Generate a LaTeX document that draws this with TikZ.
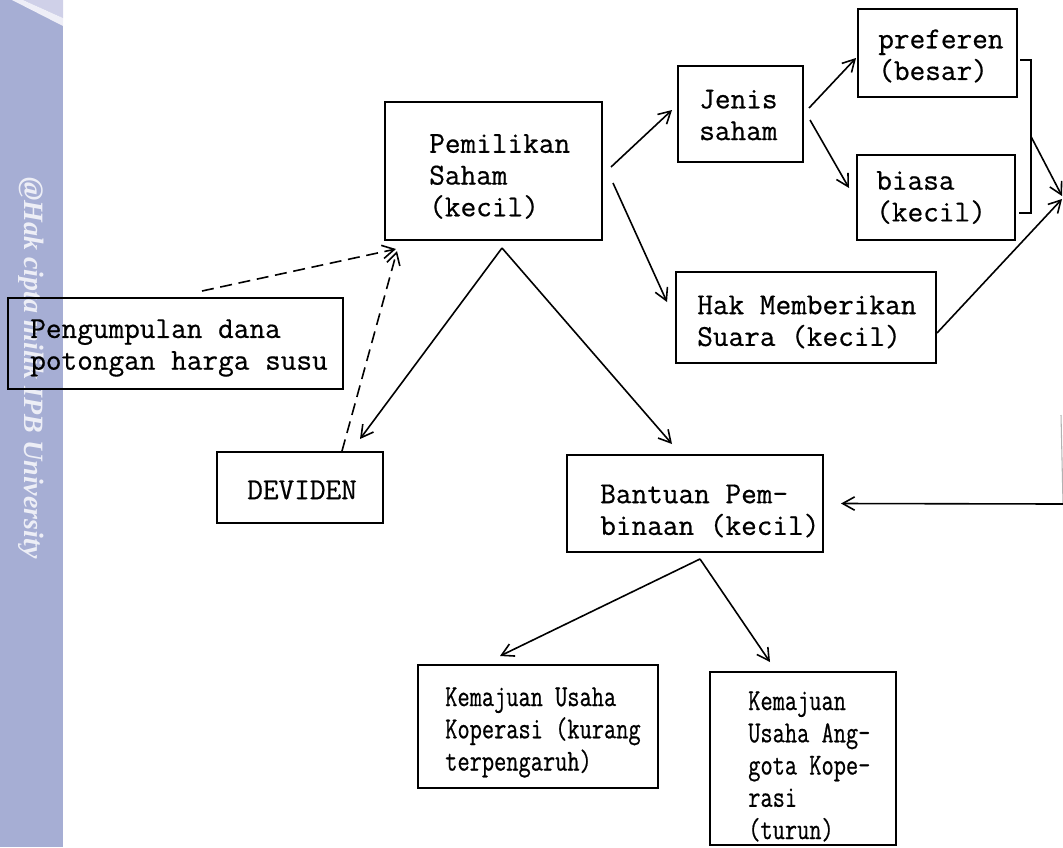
\documentclass[tikz,border=0pt]{standalone}
\usepackage{fontspec}
\newfontfamily\markfont{Liberation Serif}
\newfontfamily\typefont{Latin Modern Mono}[FakeBold=0.6]
\newfontfamily\narrowtype{Latin Modern Mono}[FakeStretch=0.78,FakeBold=0.6]
\usetikzlibrary{arrows.meta,calc}
\definecolor{stripblue}{HTML}{A6AED4}
\definecolor{stripfold}{HTML}{CFD0E8}
\definecolor{stripshine}{HTML}{EEEEF7}
\tikzset{
  box/.style n args={2}{draw, line width=1.5pt, rectangle, inner sep=0pt,
    minimum width=#1*0.75pt, minimum height=#2*0.75pt},
  txt/.style={font=\typefont\fontsize{22.8}{23.8}\selectfont, align=left,
    anchor=west, inner sep=0pt},
  narrowtxt/.style={txt, font=\narrowtype\fontsize{22.8}{24.2}\selectfont},
  arr/.style={line width=1.2pt,
    -{Straight Barb[length=9pt,width=10pt,line width=1.2pt]}},
  dsh/.style={arr, dash pattern=on 9pt off 5pt},
  link/.style={line width=1.2pt}
}
\begin{document}
\begin{tikzpicture}[x=0.75pt,y=-0.75pt]
\useasboundingbox (0,0) rectangle (1063,847);

% side strip with its folded corner and vertical mark
\fill[stripblue] (0,0) rectangle (63,847);
\fill[stripfold] (23,0) -- (63,0) -- (63,18) -- cycle;
\fill[stripshine] (12,0) -- (23,0) -- (63,18) -- (63,26) -- cycle;
\node[rotate=-90, text=white, text opacity=0.8, inner sep=0pt,
  font=\markfont\bfseries\itshape\fontsize{21}{24}\selectfont] (mark) at (31,368)
  {@Hak cipta milik IPB University};

% boxes
\node[box={217}{138}] (pemilikan) at (493.5,171) {};
\node[box={125}{96}]  (jenis)     at (740.5,114) {};
\node[box={159}{88}]  (preferen)  at (937.5,53) {};
\node[box={158}{85}]  (biasa)     at (936,197.5) {};
\node[box={260}{91}]  (hak)       at (806,317.5) {};
\node[box={335}{91}]  (pengumpulan) at (175.5,343.5) {};
\node[box={166}{71}]  (deviden)   at (300,487.5) {};
\node[box={256}{97}]  (bantuan)   at (695,503.5) {};
\node[box={240}{123}] (kuk)       at (538,726.5) {};
\node[box={186}{173}] (kua)       at (803,758.5) {};

% texts
\node[txt] (pemilikan-t) at (429,176.5) {Pemilikan\\Saham\\(kecil)};
\node[txt] (jenis-t) at (699,115) {Jenis\\saham};
\node[txt] (preferen-t) at (878,56) {preferen\\(besar)};
\node[txt] (biasa-t) at (876,197.5) {biasa\\(kecil)};
\node[txt] (hak-t) at (697,322) {Hak Memberikan\\Suara (kecil)};
\node[txt] (pengumpulan-t) at (30,348) {Pengumpulan dana\\potongan harga susu};
\node[txt] (deviden-t) at (247,490) {DEVIDEN};
\node[txt] (bantuan-t) at (600,511) {Bantuan Pem-\\binaan (kecil)};
\node[narrowtxt] (kuk-t) at (445,732.5) {Kemajuan Usaha\\Koperasi (kurang\\terpengaruh)};
\node[narrowtxt] (kua-t) at (748,766.5) {Kemajuan\\Usaha Ang-\\gota Kope-\\rasi\\(turun)};

% helper points
\coordinate (apex1) at ([shift={(8.5,7)}]pemilikan.south);
\coordinate (apex2) at ([shift={(5,6)}]bantuan.south);
\coordinate (brtop) at ([shift={(13,7)}]preferen.east);
\coordinate (brbot) at ([shift={(15,15.5)}]biasa.east);
\coordinate (merge) at (1062,199);
\coordinate (fromright) at (1063,504);

% share ownership branches
\draw[arr] ([shift={(8,-4)}]pemilikan.east) -- ([shift={(-5,-4)}]jenis.west);
\draw[arr] ([shift={(10,12)}]pemilikan.east) -- ([shift={(-8,-15.5)}]hak.west);
\draw[arr] ([shift={(5,-6)}]jenis.east) -- ([shift={(-1,5)}]preferen.west);
\draw[arr] ([shift={(6,6)}]jenis.east) -- ([shift={(-7,-9.5)}]biasa.west);

% bracket joining the two share types
\draw[link] ([shift={(2,7)}]preferen.east) -- (brtop) -- (brbot)
  -- ([shift={(3,15.5)}]biasa.east);
\draw[arr] ($(brtop)!0.5!(brbot)$) -- ([shift={(0,-3)}]merge);
\draw[arr] ([shift={(0,15.5)}]hak.east) -- (merge);

% downward split from share ownership
\draw[arr] (apex1) -- ([shift={(60,-12)}]deviden.north);
\draw[arr] (apex1) -- ([shift={(-23,-10)}]bantuan.north);

% dashed feedback into share ownership
\draw[dsh] ([shift={(26.5,-6)}]pengumpulan.north) -- ([shift={(12,8)}]pemilikan.south west);
\draw[dsh] ([shift={(42,0)}]deviden.north) -- ([shift={(13,10)}]pemilikan.south west);

% input from the right edge
\draw[gray!60, line width=0.8pt] (1061,415) -- (fromright);
\draw[arr] (fromright) -- ([shift={(17,0)}]bantuan.east);

% outcomes of the assistance
\draw[arr] (apex2) -- ([shift={(-38,-8)}]kuk.north);
\draw[arr] (apex2) -- ([shift={(-33,-9)}]kua.north);
\end{tikzpicture}
\end{document}
